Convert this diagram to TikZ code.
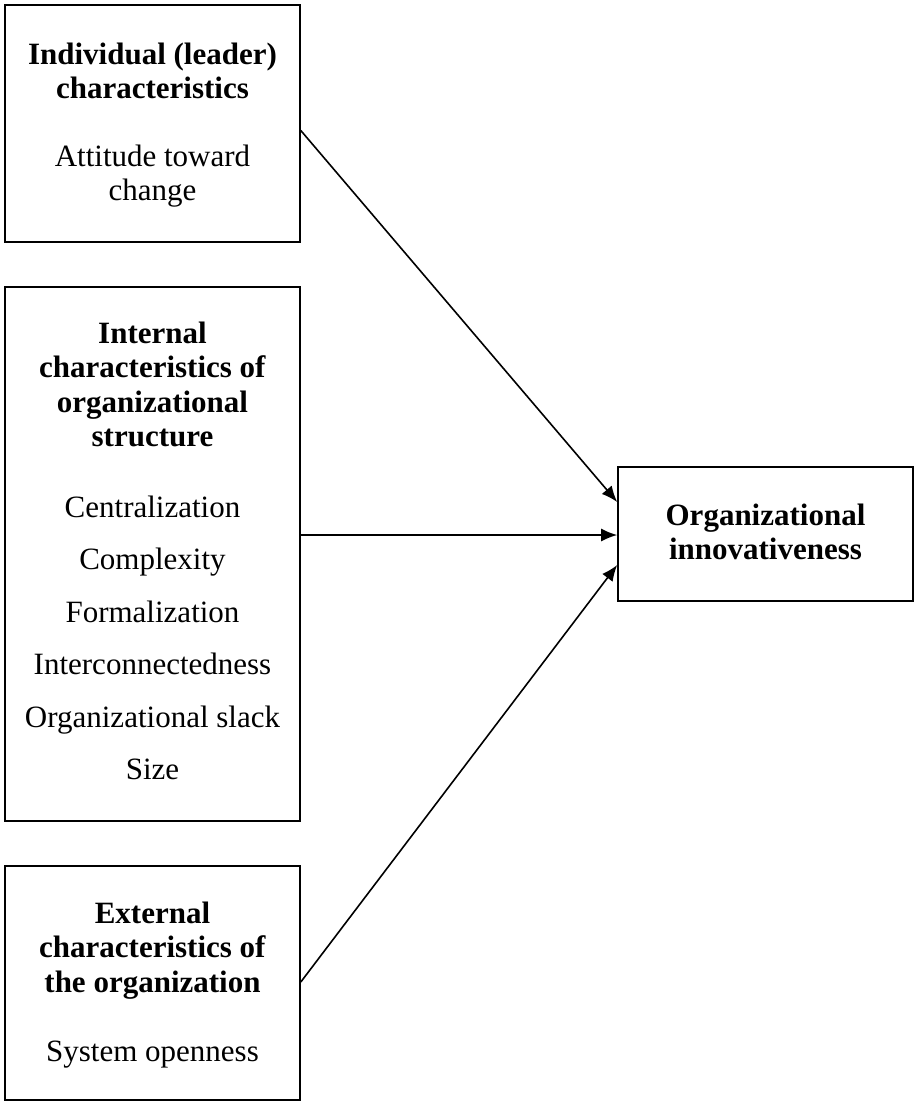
\documentclass[tikz,border=0pt]{standalone}
\usepackage{fontspec}
\setmainfont{Liberation Serif}
\usetikzlibrary{arrows.meta}

\tikzset{
  factorbox/.style={draw=black, line width=1.6pt, rectangle, minimum width=295pt, inner sep=0pt},
  boxtext/.style={anchor=base, align=center, inner sep=0pt,
                  font=\fontsize{31}{34.5}\selectfont},
  link/.style={line width=1.6pt, -{Latex[length=16pt,width=13pt]}}
}

\begin{document}
\begin{tikzpicture}[x=1pt, y=-1pt]
  \useasboundingbox (0,0) rectangle (917,1104);

  % the three groups of predictors and the outcome
  \node[factorbox, minimum height=237pt] (lead) at (152.5,123.5) {};
  \node[factorbox, minimum height=534pt] (intl) at (152.5,554) {};
  \node[factorbox, minimum height=234pt] (extl) at (152.5,983) {};
  \node[factorbox, minimum height=134pt] (innov) at (765.5,534) {};

  % box contents (each placed by the baseline of its last line)
  \node[boxtext] (leadtxt) at (152.5,200.5)
    {\textbf{Individual (leader)}\\\textbf{characteristics}\\[33pt]Attitude toward\\change};
  \node[boxtext] (intltxt) at (152.5,779.5)
    {\textbf{Internal}\\\textbf{characteristics of}\\\textbf{organizational}\\\textbf{structure}\\[36pt]%
     Centralization\\[18pt]Complexity\\[18pt]Formalization\\[18pt]Interconnectedness\\[18pt]%
     Organizational slack\\[18pt]Size};
  \node[boxtext] (extltxt) at (152.5,1061.5)
    {\textbf{External}\\\textbf{characteristics of}\\\textbf{the organization}\\[35pt]System openness};
  \node[boxtext] (innovtxt) at (765.5,559.5)
    {\textbf{Organizational}\\\textbf{innovativeness}};

  % influences on organizational innovativeness
  \draw[link] ([yshift=-7pt]lead.east) -- ([yshift=32pt]innov.west);
  \draw[link] ([yshift=19pt]intl.east) -- ([yshift=-1pt]innov.west);
  \draw[link] ([yshift=1pt]extl.east) -- ([yshift=-31pt]innov.west);
\end{tikzpicture}
\end{document}
